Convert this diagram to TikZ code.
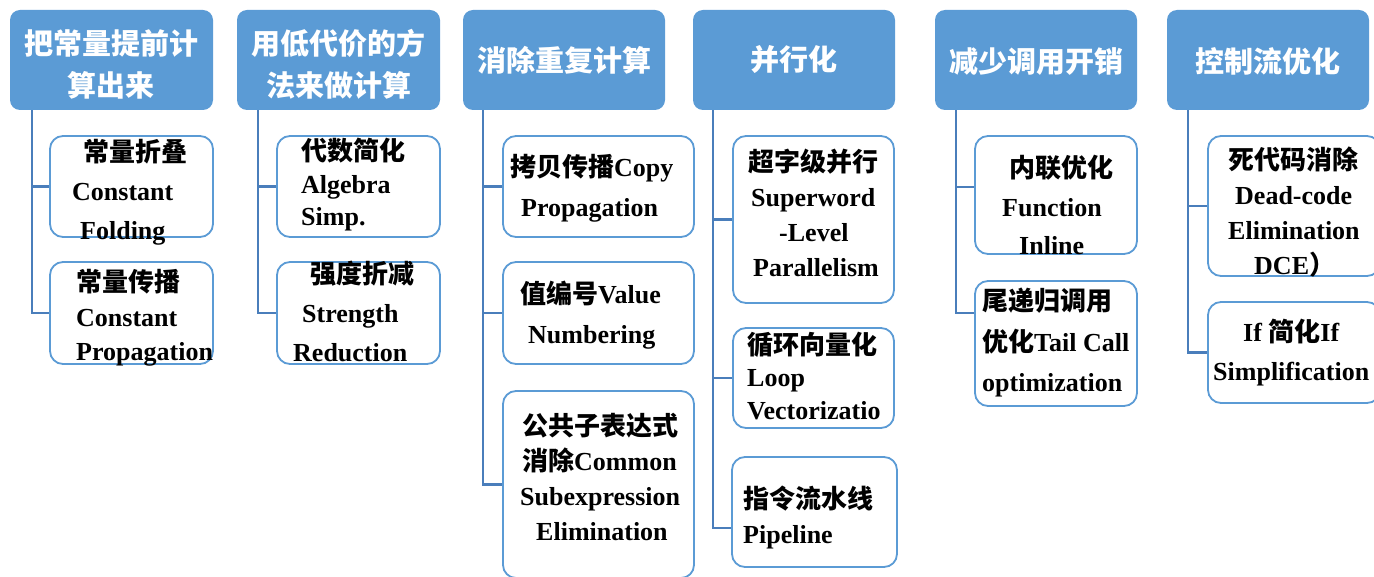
\documentclass[tikz,border=0pt]{standalone}
\usepackage{fontspec}
\setmainfont{Liberation Serif}
\newfontfamily\cjk{Noto Sans CJK SC}
\usetikzlibrary{calc}
\definecolor{hblue}{HTML}{5B9BD5}
\definecolor{cblue}{HTML}{5B9BD5}
\definecolor{lblue}{HTML}{4A7EBB}
\newcommand\zh[1]{{\cjk #1}}
\begin{document}
\begin{tikzpicture}[x=1pt,y=-1pt,
 head/.style={fill=hblue, draw=none, rounded corners=10pt, inner sep=0pt,
   minimum height=100pt, text=white, align=center,
   font=\fontsize{29}{42}\selectfont\bfseries},
 kid/.style={draw=cblue, line width=1.8pt, fill=white, rounded corners=13pt, inner sep=0pt},
 txt/.style={inner sep=0pt, anchor=west, align=left, font=\fontsize{26}{#1}\selectfont\bfseries},
 link/.style={draw=lblue, line width=2.2pt}
]
\useasboundingbox (0,0) rectangle (1374,577);

% headers
\node[head, minimum width=203pt] (h1) at (111.5,60) {\rule{0pt}{33pt}\zh{把常量提前计}\\\zh{算出来}};
\node[head, minimum width=203pt] (h2) at (338.5,60) {\rule{0pt}{33pt}\zh{用低代价的方}\\\zh{法来做计算}};
\node[head, minimum width=202pt] (h3) at (564,60) {\zh{消除重复计算}};
\node[head, minimum width=202pt] (h4) at (794,60) {\zh{并行化}};
\node[head, minimum width=202pt] (h5) at (1036,60) {\rule{0pt}{28pt}\zh{减少调用开销}};
\node[head, minimum width=202pt] (h6) at (1268,60) {\rule{0pt}{28pt}\zh{控制流优化}};

% child boxes
\node[kid, minimum width=163pt, minimum height=101pt] (c11) at (131.5,186.5) {};
\node[kid, minimum width=163pt, minimum height=102pt] (c12) at (131.5,313) {};
\node[kid, minimum width=163pt, minimum height=101pt] (c21) at (358.5,186.5) {};
\node[kid, minimum width=163pt, minimum height=102pt] (c22) at (358.5,313) {};
\node[kid, minimum width=191pt, minimum height=101pt] (c31) at (598.5,186.5) {};
\node[kid, minimum width=191pt, minimum height=102pt] (c32) at (598.5,313) {};
\node[kid, minimum width=191pt, minimum height=187pt] (c33) at (598.5,484.5) {};
\node[kid, minimum width=161pt, minimum height=167pt] (c41) at (813.5,219.5) {};
\node[kid, minimum width=161pt, minimum height=100pt] (c42) at (813.5,378) {};
\node[kid, minimum width=165pt, minimum height=110pt] (c43) at (814.5,512) {};
\node[kid, minimum width=162pt, minimum height=118pt] (c51) at (1056,195) {};
\node[kid, minimum width=162pt, minimum height=125pt] (c52) at (1056,343.5) {};
\node[kid, minimum width=172pt, minimum height=140pt] (c61) at (1294,206) {};
\node[kid, minimum width=172pt, minimum height=101pt] (c62) at (1294,352.5) {};

% connectors
\draw[link] ($(h1.south west)+(22,0)$) |- (c11.west);
\draw[link] ($(h1.south west)+(22,0)$) |- (c12.west);
\draw[link] ($(h2.south west)+(21,0)$) |- (c21.west);
\draw[link] ($(h2.south west)+(21,0)$) |- (c22.west);
\draw[link] ($(h3.south west)+(20,0)$) |- (c31.west);
\draw[link] ($(h3.south west)+(20,0)$) |- (c32.west);
\draw[link] ($(h3.south west)+(20,0)$) |- (c33.west);
\draw[link] ($(h4.south west)+(20,0)$) |- (c41.west);
\draw[link] ($(h4.south west)+(20,0)$) |- (c42.west);
\draw[link] ($(h4.south west)+(20,0)$) |- ([yshift=-16pt]c43.west);
\draw[link] ($(h5.south west)+(21,0)$) |- ([yshift=8pt]c51.west);
\draw[link] ($(h5.south west)+(21,0)$) |- ([yshift=30.5pt]c52.west);
\draw[link] ($(h6.south west)+(21,0)$) |- (c61.west);
\draw[link] ($(h6.south west)+(21,0)$) |- (c62.west);

% texts
\node[txt=39] (t11) at (72,192) {\hspace*{11pt}\zh{常量折叠}\\Constant\\\hspace*{8pt}Folding};
\node[txt=34.5] (t12) at (76,318) {\zh{常量传播}\\Constant\\Propagation};
\node[txt=32.5] (t21) at (301,185) {\zh{代数简化}\\Algebra\\Simp.};
\node[txt=39] (t22) at (293,311) {\hspace*{17pt}\zh{强度折减}\\\hspace*{9pt}Strength\\Reduction};
\node[txt=40] (t31) at (510,188) {\zh{拷贝传播}Copy\\\hspace*{11pt}Propagation};
\node[txt=40] (t32) at (520,315) {\zh{值编号}Value\\\hspace*{8pt}Numbering};
\node[txt=35] (t33) at (520,477) {\hspace*{2pt}\zh{公共子表达式}\\\hspace*{2pt}\zh{消除}Common\\Subexpression\\\hspace*{16pt}Elimination};
\node[txt=35] (t41) at (748,212.5) {\zh{超字级并行}\\\hspace*{3pt}Superword\\\hspace*{31pt}-Level\\\hspace*{5pt}Parallelism};
\node[txt=32.5] (t42) at (747,376) {\zh{循环向量化}\\Loop\\Vectorizatio};
\node[txt=35] (t43) at (743,517.5) {\zh{指令流水线}\\Pipeline};
\node[txt=38.5] (t51) at (1002,205) {\hspace*{7pt}\zh{内联优化}\\Function\\\hspace*{17pt}Inline};
\node[txt=40.5] (t52) at (982,342.5) {\zh{尾递归调用}\\\zh{优化}Tail Call\\optimization};
\node[txt=35] (t61) at (1228,212.5) {\zh{死代码消除}\\\hspace*{7pt}Dead-code\\Elimination\\\hspace*{26pt}DCE\zh{）}};
\node[txt=39] (t62) at (1213,352.5) {\hspace*{30pt}If \zh{简化}If\\Simplification};
\end{tikzpicture}
\end{document}
